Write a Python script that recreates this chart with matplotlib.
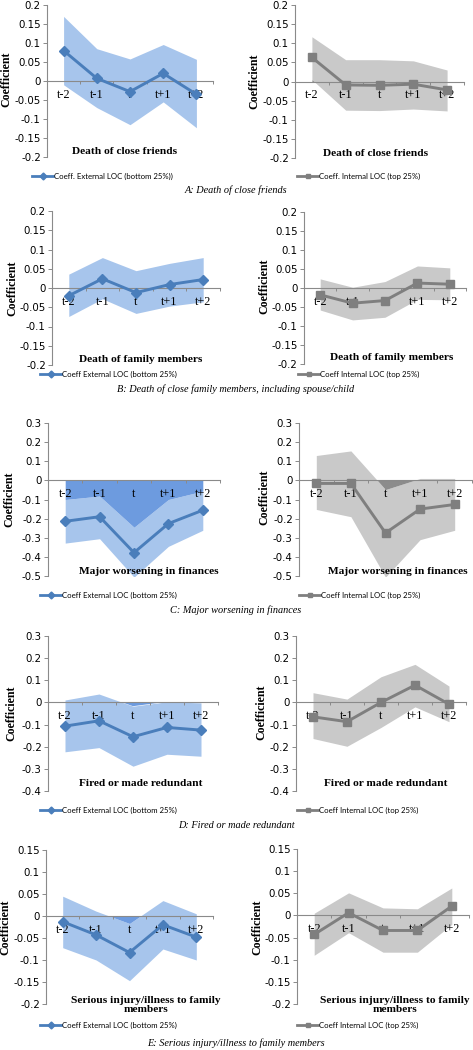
import numpy as np
import matplotlib
matplotlib.use("Agg")
import matplotlib.pyplot as plt
from matplotlib.lines import Line2D

# ---------------- data ----------------
categories = ["t-2", "t-1", "t", "t+1", "t+2"]

# A: Death of close friends
a_ext = [0.080, 0.007, -0.028, 0.020, -0.035]
a_ext_hi = [0.170, 0.085, 0.058, 0.096, 0.057]
a_ext_lo = [-0.010, -0.070, -0.115, -0.055, -0.123]
a_int = [0.063, -0.009, -0.010, -0.007, -0.022]
a_int_hi = [0.117, 0.057, 0.057, 0.054, 0.030]
a_int_lo = [0.005, -0.075, -0.076, -0.072, -0.077]
# B: Death of family members
b_ext = [-0.020, 0.024, -0.012, 0.009, 0.022]
b_ext_hi = [0.036, 0.079, 0.045, 0.064, 0.079]
b_ext_lo = [-0.074, -0.028, -0.066, -0.047, -0.036]
b_int = [-0.018, -0.040, -0.033, 0.013, 0.010]
b_int_hi = [0.024, 0.002, 0.017, 0.058, 0.053]
b_int_lo = [-0.058, -0.084, -0.077, -0.030, -0.031]
# C: Major worsening in finances
c_ext = [-0.214, -0.190, -0.378, -0.226, -0.156]
c_ext_hi = [-0.100, -0.082, -0.245, -0.100, -0.056]
c_ext_lo = [-0.328, -0.305, -0.506, -0.345, -0.261]
c_int = [-0.016, -0.016, -0.275, -0.150, -0.126]
c_int_hi = [0.130, 0.154, -0.048, 0.010, 0.010]
c_int_lo = [-0.152, -0.190, -0.506, -0.310, -0.261]
# D: Fired or made redundant
d_ext = [-0.107, -0.083, -0.155, -0.113, -0.125]
d_ext_hi = [0.011, 0.038, -0.017, 0.003, -0.002]
d_ext_lo = [-0.223, -0.204, -0.288, -0.234, -0.243]
d_int = [-0.065, -0.087, 0.000, 0.078, -0.008]
d_int_hi = [0.044, 0.015, 0.116, 0.172, 0.074]
d_int_lo = [-0.163, -0.198, -0.113, -0.020, -0.087]
# E: Serious injury/illness to family members
e_ext = [-0.013, -0.043, -0.083, -0.020, -0.048]
e_ext_hi = [0.045, 0.011, -0.017, 0.035, 0.005]
e_ext_lo = [-0.072, -0.100, -0.147, -0.075, -0.100]
e_int = [-0.043, 0.006, -0.034, -0.034, 0.021]
e_int_hi = [0.005, 0.051, 0.017, 0.015, 0.062]
e_int_lo = [-0.090, -0.039, -0.083, -0.083, -0.020]

ab_yticks = [0.2, 0.15, 0.1, 0.05, 0, -0.05, -0.1, -0.15, -0.2]
c_yticks = [0.3, 0.2, 0.1, 0, -0.1, -0.2, -0.3, -0.4, -0.5]
d_yticks = [0.3, 0.2, 0.1, 0, -0.1, -0.2, -0.3, -0.4]
e_yticks = [0.15, 0.1, 0.05, 0, -0.05, -0.1, -0.15, -0.2]

titles = ["Death of close friends", "Death of family members",
          "Major worsening in finances", "Fired or made redundant",
          "Serious injury/illness to family\nmembers"]
ext_labels = ["Coeff. External LOC (bottom 25%))", "Coeff External LOC (bottom 25%)",
              "Coeff External LOC (bottom 25%)", "Coeff External LOC (bottom 25%)",
              "Coeff External LOC (bottom 25%)"]
int_labels = ["Coeff. Internal LOC (top 25%)", "Coeff Internal LOC (top 25%)",
              "Coeff Internal LOC (top 25%)", "Coeff Internal LOC (top 25%)",
              "Coeff Internal LOC (top 25%)"]
captions = ["A: Death of close friends",
            "B: Death of close family members, including spouse/child",
            "C: Major worsening in finances",
            "D: Fired or made redundant",
            "E: Serious injury/illness to family members"]

# ---------------- styling / layout ----------------
W, H = 473, 1050
fig = plt.figure(figsize=(W / 100, H / 100), dpi=100)

BLUE = "#4A7EBB"
BLUE_L = "#A7C5EC"
BLUE_D = "#6D9BDF"
GRAY = "#7F7F7F"
GRAY_L = "#C9C9C9"
GRAY_D = "#8C8C8C"
AXC = "#8A8A8A"

TICKFONT = "DejaVu Sans"
SERIF = "Liberation Serif"
LEGFONT = "Lato"

# (left, right, top, bottom) in px, title centre (x, y), ylabel (x, y), legend y, legend x0
layout = [
    # A
    ((47, 213, 5, 157), (125, 152), (6, 79), 176, 32,
     (295, 464, 5, 158), (376, 153), (254, 81), 176, 297, 190),
    # B
    ((52, 220, 211, 365), (141, 359), (12, 288), 374, 40,
     (304, 466, 212, 364), (392, 358), (264, 286), 374, 298, 389),
    # C
    ((48, 220, 423, 576), (149, 571), (9, 499), 595, 40,
     (299, 472, 423, 576), (398, 571), (264, 497), 595, 299, 610),
    # D
    ((48, 218, 636, 791), (141, 784), (11, 713), 810, 40,
     (296, 466, 636, 791), (386, 784), (261, 712), 810, 297, 826),
    # E
    ((46, 213, 850, 1004), (146, 1005), (5, 927), 1025, 40,
     (297, 469, 849, 1004), (395, 1005), (257, 927), 1025, 297, 1043),
]

panels = [
    (a_ext, a_ext_hi, a_ext_lo, a_int, a_int_hi, a_int_lo, ab_yticks),
    (b_ext, b_ext_hi, b_ext_lo, b_int, b_int_hi, b_int_lo, ab_yticks),
    (c_ext, c_ext_hi, c_ext_lo, c_int, c_int_hi, c_int_lo, c_yticks),
    (d_ext, d_ext_hi, d_ext_lo, d_int, d_int_hi, d_int_lo, d_yticks),
    (e_ext, e_ext_hi, e_ext_lo, e_int, e_int_hi, e_int_lo, e_yticks),
]


def fx(px):
    return px / W


def fy(py):
    return 1 - py / H


def fmt(v):
    s = "{:g}".format(round(v, 3))
    return "0" if s in ("0", "-0") else s


def draw_panel(box, coef, hi, lo, yticks, line_c, light_c, dark_c, marker, msize,
               title, title_xy, ylab_xy, leg_y, leg_x0, leg_label):
    l, r, t, b = box
    ax = fig.add_axes([fx(l), fy(b), (r - l) / W, (b - t) / H])
    for s in ("top", "right"):
        ax.spines[s].set_visible(False)
    ax.spines["left"].set_color(AXC)
    ax.spines["left"].set_linewidth(0.8)
    ax.spines["bottom"].set_position(("data", 0))
    ax.spines["bottom"].set_color(AXC)
    ax.spines["bottom"].set_linewidth(0.8)
    ax.patch.set_alpha(0)

    x = np.arange(len(categories))
    hi = np.asarray(hi)
    lo = np.asarray(lo)
    ax.fill_between(x, lo, hi, color=light_c, lw=0, zorder=1)
    ax.fill_between(x, 0, hi, where=hi < 0, interpolate=True, color=dark_c, lw=0, zorder=1.1)
    ax.fill_between(x, 0, lo, where=lo > 0, interpolate=True, color=dark_c, lw=0, zorder=1.1)
    ax.plot(x, coef, color=line_c, lw=2.1, marker=marker, ms=msize,
            mfc=line_c, mec=line_c, zorder=4, clip_on=False)
    ax.set_xlim(-0.5, len(categories) - 0.5)
    ax.set_ylim(min(yticks), max(yticks))

    ax.set_yticks(yticks)
    ax.set_yticklabels([fmt(v) for v in yticks])
    ax.tick_params(axis="y", direction="out", length=3, width=0.7, color=AXC, pad=1.5,
                   labelsize=7.4, labelfontfamily=TICKFONT)
    ax.set_xticks(np.arange(len(categories) + 1) - 0.5)
    ax.set_xticklabels([])
    ax.set_xticks(x, minor=True)
    ax.set_xticklabels(categories, minor=True)
    ax.tick_params(axis="x", which="major", direction="out", length=2.5, width=0.7, color=AXC)
    ax.tick_params(axis="x", which="minor", length=0, pad=5.5,
                   labelsize=8.8, labelfontfamily=SERIF)

    # title inside plot
    fig.text(fx(title_xy[0]), fy(title_xy[1]), title, ha="center", va="center",
             fontsize=8.2, fontweight="bold", family=SERIF, linespacing=0.95)
    # y label
    fig.text(fx(ylab_xy[0]), fy(ylab_xy[1]), "Coefficient", rotation=90,
             ha="center", va="center", fontsize=8.6, fontweight="bold", family=SERIF)
    # legend
    x1 = leg_x0 + 21
    fig.add_artist(Line2D([fx(leg_x0), fx(x1)], [fy(leg_y)] * 2, color=line_c, lw=2.0,
                          transform=fig.transFigure))
    fig.add_artist(Line2D([fx((leg_x0 + x1) / 2)], [fy(leg_y)], color=line_c, lw=0,
                          marker=marker, ms=3.5, transform=fig.transFigure))
    fig.text(fx(x1 + 1), fy(leg_y), leg_label, ha="left", va="center",
             fontsize=5.6, family=LEGFONT)
    return ax


for i, (pan, lay) in enumerate(zip(panels, layout)):
    ext, ext_hi, ext_lo, itn, itn_hi, itn_lo, yt = pan
    (lbox, ltit, lylab, lleg, lx0, rbox, rtit, rylab, rleg, rx0, capy) = lay
    draw_panel(lbox, ext, ext_hi, ext_lo, yt, BLUE, BLUE_L, BLUE_D, "D", 5.6,
               titles[i], ltit, lylab, lleg, lx0, ext_labels[i])
    draw_panel(rbox, itn, itn_hi, itn_lo, yt, GRAY, GRAY_L, GRAY_D, "s", 5.2,
               titles[i], rtit, rylab, rleg, rx0, int_labels[i])
    fig.text(fx(236), fy(capy), captions[i], ha="center", va="center",
             fontsize=7.4, style="italic", family=SERIF)

fig.savefig("out.png", dpi=100)
